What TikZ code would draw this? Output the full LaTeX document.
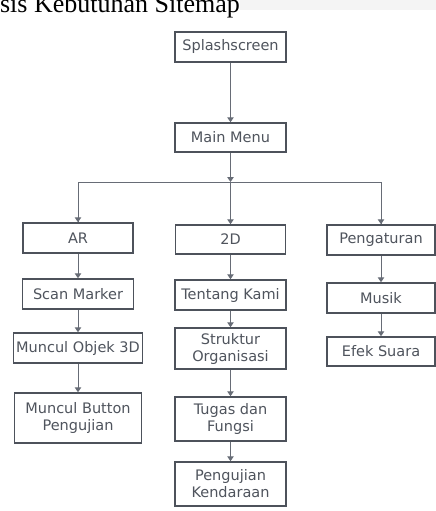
\documentclass[tikz,border=0pt]{standalone}
\usepackage{fontspec}
\setmainfont{Liberation Serif}
\newfontfamily\boxfont{DejaVu Sans}
\usetikzlibrary{arrows.meta}
\definecolor{boxline}{HTML}{4D525B}
\definecolor{boxtext}{HTML}{4F545D}
\definecolor{conn}{HTML}{676C76}
\definecolor{band}{HTML}{F4F4F4}
\tikzset{
  pagebox/.style={draw=boxline, line width=1.5pt, fill=white, text=boxtext,
    font=\boxfont\fontsize{14.5}{17}\selectfont, align=center, inner sep=0pt},
  link/.style={draw=conn, line width=1pt, -{Triangle[length=5pt,width=6.5pt]}},
  plain/.style={draw=conn, line width=1pt}
}
\begin{document}
\begin{tikzpicture}[x=1pt,y=-1pt]
\useasboundingbox (0,0) rectangle (436,511);
\clip (0,0) rectangle (436,511);
\fill[band] (240,0) rectangle (436,10);
\node[anchor=base east, font=\fontsize{26}{30}\selectfont, inner sep=0pt] (title) at (240,13) {sis Kebutuhan Sitemap};

\node[pagebox, minimum width=111pt, minimum height=30pt] (splash) at (230.5,47) {Splashscreen};
\node[pagebox, minimum width=111pt, minimum height=29pt] (menu) at (230.5,137.5) {Main Menu};
\node[pagebox, minimum width=110pt, minimum height=30pt] (ar) at (78,238) {AR};
\node[pagebox, minimum width=110pt, minimum height=29pt] (dd) at (230.5,239.5) {2D};
\node[pagebox, minimum width=108pt, minimum height=30pt] (set) at (381,240) {Pengaturan};
\node[pagebox, minimum width=111pt, minimum height=30pt] (scan) at (78,294) {Scan Marker};
\node[pagebox, minimum width=111pt, minimum height=30pt] (about) at (230.5,295) {Tentang Kami};
\node[pagebox, minimum width=108pt, minimum height=30pt] (music) at (381,298) {Musik};
\node[pagebox, minimum width=129pt, minimum height=30pt] (obj) at (78,348) {Muncul Objek 3D};
\node[pagebox, minimum width=111pt, minimum height=41pt] (org) at (230.5,348.5) {Struktur\\Organisasi};
\node[pagebox, minimum width=108pt, minimum height=29pt] (sfx) at (381,351.5) {Efek Suara};
\node[pagebox, minimum width=127pt, minimum height=50pt] (btn) at (78,418) {Muncul Button\\Pengujian};
\node[pagebox, minimum width=111pt, minimum height=44pt] (task) at (230.5,419) {Tugas dan\\Fungsi};
\node[pagebox, minimum width=111pt, minimum height=44pt] (veh) at (230.5,484) {Pengujian\\Kendaraan};

\coordinate (j) at (230.5,182);

\draw[link] (splash) -- (menu);
\draw[link] (menu) -- (j);
\draw[plain] (j) -| (ar.north);
\draw[plain] (j) -| (set.north);
\draw[link] (j) -- (dd);
\draw[link] (j -| ar.north) -- (ar);
\draw[link] (j -| set.north) -- (set);

\draw[link] (ar) -- (scan);
\draw[link] (scan) -- (scan |- obj.north);
\draw[link] (obj) -- (obj |- btn.north);

\draw[link] (dd) -- (about);
\draw[link] (about) -- (org);
\draw[link] (org) -- (task);
\draw[link] (task) -- (veh);

\draw[link] (set) -- (music);
\draw[link] (music) -- (sfx);
\end{tikzpicture}
\end{document}
